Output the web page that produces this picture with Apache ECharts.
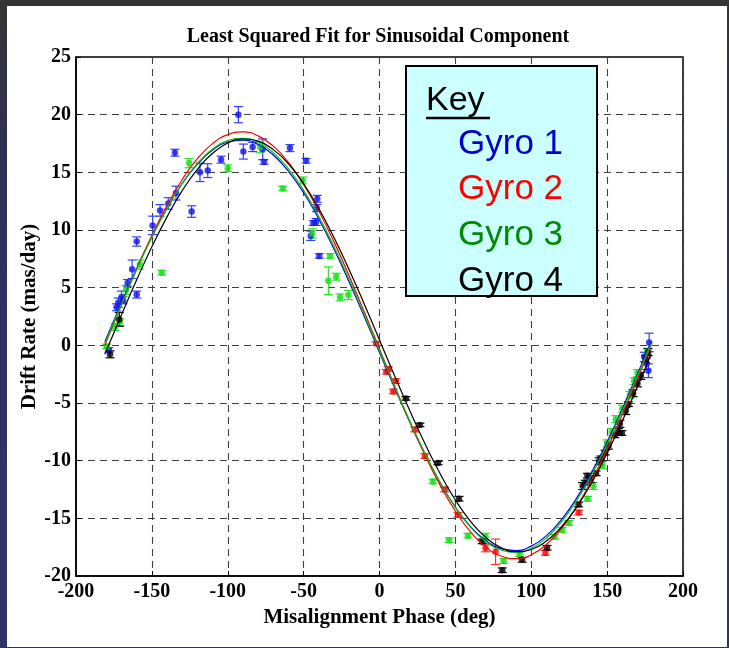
<!DOCTYPE html>
<html>
<head>
<meta charset="utf-8">
<script src="https://cdn.jsdelivr.net/npm/echarts@6/dist/echarts.min.js"></script>
<style>
html,body{margin:0;padding:0;width:729px;height:648px;overflow:hidden;}
body{background:linear-gradient(180deg,#343434 0%,#303050 20%,#2f3164 45%,#2f3266 100%);}
#chart{position:absolute;left:7px;top:6px;width:720px;height:641px;background:#fff;}
</style>
</head>
<body>
<div id="chart"></div>
<script>
// ---------- data ----------
const xTicks = [-200, -150, -100, -50, 0, 50, 100, 150, 200];
const yTicks = [-20, -15, -10, -5, 0, 5, 10, 15, 20, 25];
const legendLabels = ['Gyro 1', 'Gyro 2', 'Gyro 3', 'Gyro 4'];

// fitted sinusoid curves
const curveX = [-181,-170,-160,-150,-140,-130,-120,-110,-100,-90,-80,-70,-60,-50,-40,-30,-20,-10,0,10,20,30,40,50,60,70,80,90,100,110,120,130,140,150,160,170,179];
const fit1 = [0.31,3.70,6.67,9.43,11.91,14.03,15.72,16.93,17.63,17.79,17.41,16.50,15.09,13.23,10.96,8.36,5.50,2.48,-0.62,-3.70,-6.67,-9.43,-11.91,-14.03,-15.72,-16.93,-17.63,-17.79,-17.41,-16.50,-15.09,-13.23,-10.96,-8.36,-5.50,-2.48,0.31];
const fit2 = [0,3.53,6.63,9.53,12.14,14.38,16.18,17.49,18.27,18.50,18.16,17.27,15.86,13.96,11.64,8.97,6.02,2.89,-0.32,-3.53,-6.63,-9.53,-12.14,-14.38,-16.18,-17.49,-18.27,-18.50,-18.16,-17.27,-15.86,-13.96,-11.64,-8.97,-6.02,-2.89,0];
const fit3 = [0.16,3.58,6.58,9.38,11.89,14.05,15.77,17.02,17.75,17.94,17.59,16.70,15.30,13.44,11.17,8.57,5.70,2.65,-0.47,-3.58,-6.58,-9.38,-11.89,-14.05,-15.77,-17.02,-17.75,-17.94,-17.59,-16.70,-15.30,-13.44,-11.17,-8.57,-5.70,-2.65,0.16];
const fit4 = [-0.78,2.65,5.68,8.54,11.14,13.41,15.26,16.65,17.54,17.89,17.70,16.97,15.73,14.01,11.86,9.35,6.56,3.57,0.47,-2.65,-5.68,-8.54,-11.14,-13.41,-15.26,-16.65,-17.54,-17.89,-17.70,-16.97,-15.73,-14.01,-11.86,-9.35,-6.56,-3.57,-0.78];

// measured points: phase, drift rate, error half-size
const gyro1X   = [-178.3,-173.2,-172.1,-170,-169,-166,-163,-160,-160,-149.5,-144.6,-139.2,-134.1,-134.8,-123.8,-118.3,-113.2,-104.4,-93,-89.7,-83.6,-77,-76.1,-59,-48.4,-41,-41.4,-41.8,-43.6,-45.3,-39.7,174.5,176,177.2,177.7];
const gyro1Y   = [-0.4,3.3,3.7,4.2,3.9,5.4,6.6,4.4,9.0,10.4,11.7,12.3,13.2,16.7,11.6,15.0,15.15,16.1,20.0,16.8,17.2,17.0,15.9,17.1,16.0,12.7,11.9,10.7,10.6,9.5,7.75,-1.0,-1.6,-2.2,0.25];
const gyro1Err = [0.2,0.3,0.4,0.5,0.3,0.3,0.8,0.3,0.4,0.8,0.5,0.5,0.6,0.3,0.5,0.8,0.6,0.3,0.7,0.65,0.4,0.9,0.2,0.3,0.2,0.3,0.3,0.3,0.2,0.4,0.2,0.4,0.5,0.6,0.8];

const gyro2X   = [-2.2,4.5,5.8,10.8,9.1,23.3,29.9,43,51.7,69.9,76.5,109.3,131.2];
const gyro2Y   = [0.15,-2.3,-2.05,-3.1,-4.0,-7.3,-9.6,-12.5,-14.7,-17.6,-17.9,-18.0,-14.5];
const gyro2Err = [0.15,0.2,0.2,0.2,0.2,0.2,0.2,0.2,0.2,0.3,1.1,0.2,0.2];

const gyro3X   = [-179.8,-174.3,-171,-167,-158,-143.5,-125.5,-100,-78.7,-63.8,-50.6,-44.3,-32.6,-33.7,-28.5,-26,-20.5,35.3,45.9,58.3,69.9,81.8,92.3,115.3,120.3,124.7,137.1,140.9,147,150,153,155.7,160,165,167.8,170,176.5];
const gyro3Y   = [-0.1,1.6,2.0,4.8,7.0,6.3,15.8,15.35,17.2,13.6,14.3,9.7,7.75,5.6,5.95,4.16,4.36,-11.8,-16.9,-16.5,-16.6,-18.7,-18.1,-16.6,-16.0,-15.4,-13.3,-12.2,-10.4,-8.5,-7.5,-6.4,-5.5,-4.3,-3.1,-2.4,-0.55];
const gyro3Err = [0.2,0.3,0.3,0.4,0.4,0.2,0.4,0.3,0.5,0.2,0.3,0.4,0.2,1.2,0.3,0.3,0.4,0.2,0.2,0.2,0.3,0.2,0.2,0.2,0.2,0.2,0.2,0.3,0.3,0.3,0.3,0.3,0.3,0.3,0.3,0.3,0.3];

const gyro4X   = [-177.6,-171.5,17.4,26.6,38.6,52.4,67.7,80.9,94,110.4,131.2,133.9,135.6,137,139.4,142.7,144.8,146,148.7,150.9,155,157.5,158.4,159.7,162.3,164,167.1,170,172.2,175.4,177];
const gyro4Y   = [-0.78,2.25,-4.6,-6.9,-10.2,-13.3,-17.0,-19.5,-18.6,-17.55,-13.8,-12.2,-11.9,-11.3,-11.6,-11.1,-10.05,-9.8,-9.3,-8.7,-7.8,-7.5,-6.8,-7.6,-5.7,-5.1,-4.15,-3.3,-2.65,-1.2,-0.6];
const gyro4Err = [0.3,0.6,0.15,0.15,0.15,0.2,0.2,0.2,0.2,0.2,0.2,0.3,0.2,0.2,0.3,0.2,0.3,0.2,0.2,0.3,0.2,0.3,0.3,0.2,0.3,0.2,0.3,0.3,0.3,0.3,0.3];

// ---------- styling ----------
const dotColors = ['#1414f0', '#ff0000', '#10e010', '#000000'];
const barColors = ['#3040ff', '#ff3030', '#30e030', '#000000'];
const lineColors = ['#0000ff', '#ff0000', '#00c800', '#000000'];
const legendColors = ['#0000cc', '#ff0000', '#008a00', '#000000'];
const serif = '"Liberation Serif","Times New Roman",serif';

const gyros = [
  [gyro1X, gyro1Y, gyro1Err],
  [gyro2X, gyro2Y, gyro2Err],
  [gyro3X, gyro3Y, gyro3Err],
  [gyro4X, gyro4Y, gyro4Err]
];
const fits = [fit1, fit2, fit3, fit4];

const series = [];
gyros.forEach((g, i) => {
  const pts = g[0].map((x, k) => [x, g[1][k], g[2][k]]);
  series.push({
    type: 'custom',
    z: 2 + i,
    clip: false,
    silent: true,
    encode: { x: 0, y: 1 },
    data: pts,
    renderItem: function (params, api) {
      const x = api.value(0), y = api.value(1), e = api.value(2);
      const top = api.coord([x, y + e]);
      const bot = api.coord([x, y - e]);
      const cw = 4.5;
      const st = { stroke: barColors[i], lineWidth: 1.2 };
      return {
        type: 'group',
        children: [
          { type: 'line', shape: { x1: top[0], y1: top[1], x2: bot[0], y2: bot[1] }, style: st },
          { type: 'line', shape: { x1: top[0] - cw, y1: top[1], x2: top[0] + cw, y2: top[1] }, style: st },
          { type: 'line', shape: { x1: bot[0] - cw, y1: bot[1], x2: bot[0] + cw, y2: bot[1] }, style: st }
        ]
      };
    }
  });
  series.push({
    type: 'scatter',
    z: 10 + i,
    silent: true,
    symbol: 'circle',
    symbolSize: 6.5,
    itemStyle: { color: dotColors[i] },
    data: pts.map(p => [p[0], p[1]])
  });
});
fits.forEach((f, i) => {
  series.push({
    type: 'line',
    z: 20 + i,
    silent: true,
    smooth: true,
    showSymbol: false,
    symbol: 'none',
    lineStyle: { color: lineColors[i], width: 1.2 },
    data: curveX.map((x, k) => [x, f[k]])
  });
});

const chart = echarts.init(document.getElementById('chart'), null, { renderer: 'canvas' });
const gridLeft = 69, gridTop = 51, gridW = 607, gridH = 519;

const legendGraphics = [
  { type: 'rect', shape: { x: 399, y: 60, width: 191, height: 230 },
    style: { fill: '#ccffff', stroke: '#000', lineWidth: 2 }, z: 100 },
  { type: 'text', x: 419, y: 94.5, z: 101,
    style: { text: 'Key', font: '34px "Liberation Sans", Arial, sans-serif', fill: '#000', textAlign: 'left', textVerticalAlign: 'middle' } },
  { type: 'line', shape: { x1: 419, y1: 112, x2: 483, y2: 112 }, style: { stroke: '#000', lineWidth: 2.5 }, z: 101 }
];
legendLabels.forEach((t, i) => {
  legendGraphics.push({
    type: 'text', x: 451, y: 138 + i * 45.7, z: 101,
    style: { text: t, font: '35px "Liberation Sans", Arial, sans-serif', fill: legendColors[i], textAlign: 'left', textVerticalAlign: 'middle' }
  });
});
legendGraphics.push({
  type: 'text', x: 371, y: 31, z: 101,
  style: { text: 'Least Squared Fit for Sinusoidal Component', font: 'bold 20px ' + serif, fill: '#000', textAlign: 'center', textVerticalAlign: 'middle' }
});

chart.setOption({
  animation: false,
  backgroundColor: '#ffffff',
  grid: { left: gridLeft, top: gridTop, width: gridW, height: gridH, show: true, borderColor: '#000', borderWidth: 1.5, backgroundColor: 'transparent' },
  xAxis: {
    type: 'value', min: xTicks[0], max: xTicks[xTicks.length - 1], interval: 50,
    name: 'Misalignment Phase (deg)', nameLocation: 'middle', nameGap: 29,
    nameTextStyle: { fontFamily: serif, fontWeight: 'bold', fontSize: 21, color: '#000' },
    axisLine: { show: true, onZero: false, lineStyle: { color: '#000', width: 1.5 } },
    axisTick: { show: true, inside: true, length: 5, lineStyle: { color: '#000' } },
    axisLabel: { margin: 6, fontFamily: serif, fontWeight: 'bold', fontSize: 20, color: '#000', showMinLabel: true, showMaxLabel: true },
    splitLine: { show: true, lineStyle: { color: '#404040', type: [7, 5], width: 1.1 } }
  },
  yAxis: {
    type: 'value', min: yTicks[0], max: yTicks[yTicks.length - 1], interval: 5,
    name: 'Drift Rate (mas/day)', nameLocation: 'middle', nameGap: 36, nameMoveOverlap: false,
    nameTextStyle: { fontFamily: serif, fontWeight: 'bold', fontSize: 21, color: '#000' },
    axisLine: { show: true, onZero: false, lineStyle: { color: '#000', width: 1.5 } },
    axisTick: { show: true, inside: true, length: 5, lineStyle: { color: '#000' } },
    axisLabel: { margin: 5, fontFamily: serif, fontWeight: 'bold', fontSize: 20, color: '#000', showMinLabel: true, showMaxLabel: true },
    splitLine: { show: true, lineStyle: { color: '#404040', type: [7, 5], width: 1.1 } }
  },
  graphic: legendGraphics,
  series: series
});
</script>
</body>
</html>
